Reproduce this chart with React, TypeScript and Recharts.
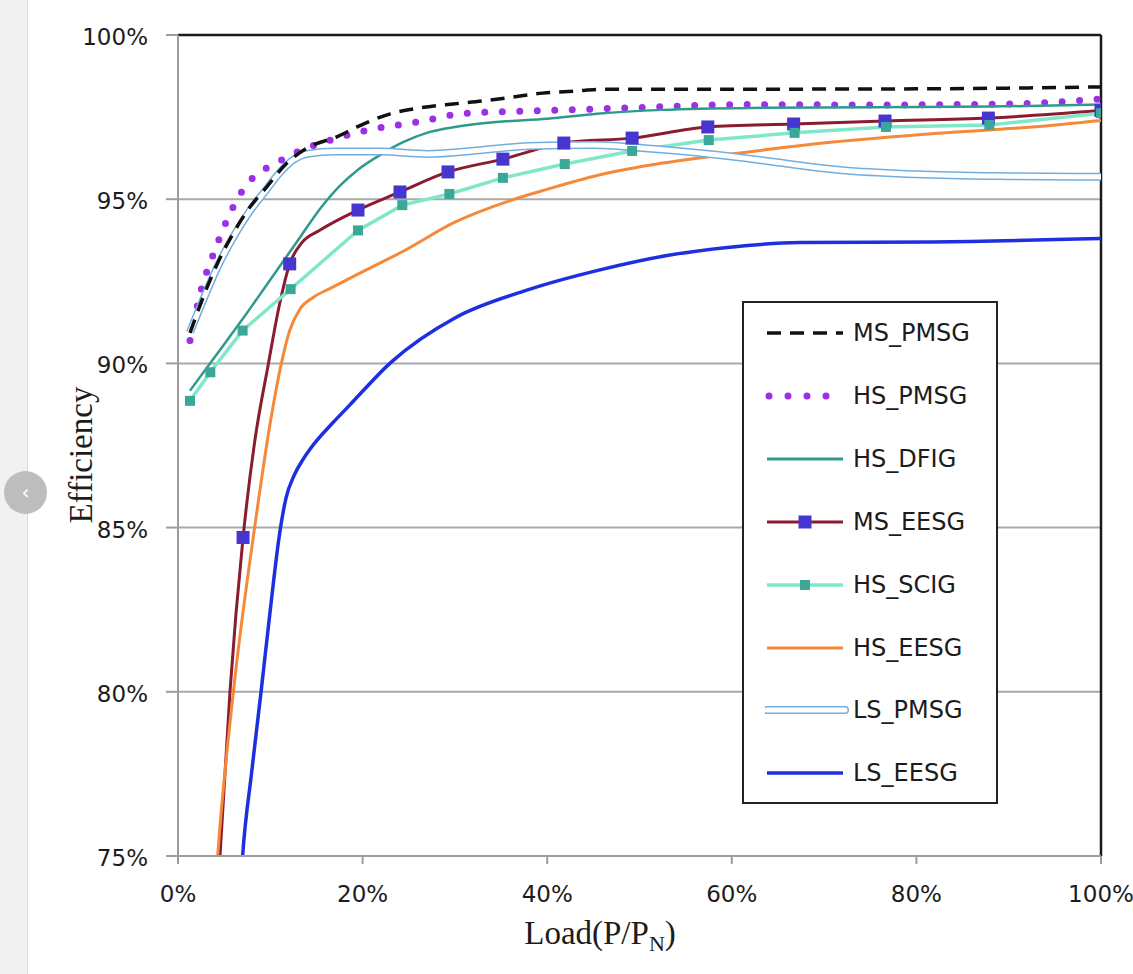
import React from 'react';
import { ComposedChart, Line, XAxis, YAxis, CartesianGrid, Legend, ReferenceLine } from 'recharts';

// Axis ticks (percent)
const LOAD_TICKS = [0, 20, 40, 60, 80, 100];
const EFF_TICKS = [75, 80, 85, 90, 95, 100];

// [load %, efficiency %]
const MS_PMSG: [number, number][] = [
  [1.3, 90.93], [2.9, 92.14], [4.3, 93.06], [6.0, 93.97], [7.8, 94.76], [9.6, 95.37],
  [11.8, 96.1], [14, 96.56], [17.2, 96.9], [19.4, 97.2], [23, 97.6], [26.2, 97.78],
  [29.8, 97.9], [33, 97.99], [36.3, 98.11], [39.5, 98.23], [42.8, 98.29], [46.5, 98.35],
  [60, 98.35], [80, 98.36], [100, 98.42],
];

const HS_PMSG: [number, number][] = [
  [1.3, 90.7], [2.6, 92.33], [3.8, 93.3], [5.2, 94.3], [6.9, 95.22], [8.1, 95.65],
  [9.6, 95.95], [11.4, 96.22], [13, 96.45], [16.5, 96.8], [20.5, 97.1], [25.9, 97.35],
  [31.3, 97.62], [38.9, 97.69], [49, 97.78], [61.2, 97.88], [75, 97.87], [90, 97.9],
  [100, 98.05],
];

const HS_DFIG: [number, number][] = [
  [1.3, 89.17], [4, 90.2], [7, 91.35], [10, 92.55], [13, 93.75], [15.5, 94.75],
  [17.5, 95.4], [19.5, 95.9], [21.9, 96.35], [24.5, 96.75], [27.3, 97.05], [30, 97.2],
  [34.5, 97.35], [40, 97.45], [45.4, 97.6], [52.5, 97.72], [62, 97.78], [75, 97.8],
  [88, 97.82], [100, 97.88],
];

const MS_EESG_CURVE: [number, number][] = [
  [3.5, 69.5], [4.55, 75], [5.63, 80], [7.05, 84.7], [8.3, 87.6], [9.8, 90], [11, 91.8],
  [12.1, 93.03], [13.4, 93.67], [15.4, 94.06], [19.5, 94.67], [24.05, 95.22],
  [29.25, 95.83], [35.2, 96.22], [41.8, 96.71], [49.2, 96.86], [57.4, 97.2],
  [66.7, 97.29], [76.6, 97.38], [87.8, 97.47], [100, 97.7],
];

const MS_EESG_MARKERS: [number, number][] = [
  [7.05, 84.7], [12.1, 93.03], [19.5, 94.67], [24.05, 95.22], [29.25, 95.83],
  [35.2, 96.22], [41.8, 96.71], [49.2, 96.86], [57.4, 97.2], [66.7, 97.29],
  [76.6, 97.38], [87.8, 97.47], [100, 97.7],
];

const HS_SCIG: [number, number][] = [
  [1.3, 88.86], [3.5, 89.73], [7, 91.0], [12.2, 92.26], [19.5, 94.05], [24.3, 94.82],
  [29.4, 95.16], [35.2, 95.65], [41.9, 96.07], [49.2, 96.47], [57.5, 96.8], [66.8, 97.02],
  [76.7, 97.2], [87.9, 97.26], [100, 97.62],
];

const HS_EESG: [number, number][] = [
  [3.5, 71.5], [4.3, 75], [6.0, 80], [8.3, 85], [10, 88.2], [11.2, 90], [12.1, 91.0],
  [13.2, 91.65], [14.6, 92.0], [16.6, 92.3], [20.4, 92.85], [24.3, 93.4], [30, 94.3],
  [35.9, 94.95], [40, 95.3], [45.4, 95.72], [52.5, 96.1], [60, 96.38], [71, 96.74],
  [82, 97.0], [92.6, 97.2], [100, 97.4],
];

const LS_PMSG: [number, number][] = [
  [1.3, 90.95], [2.9, 92.05], [4.3, 92.95], [6, 93.85], [7.8, 94.65], [9.6, 95.3],
  [11, 95.8], [12.5, 96.2], [14, 96.38], [17, 96.45], [22, 96.45], [27, 96.38], [33, 96.5],
  [38, 96.62], [45, 96.65], [52, 96.52], [60, 96.3], [66, 96.08], [72, 95.88],
  [80, 95.76], [90, 95.7], [100, 95.68],
];

const LS_EESG: [number, number][] = [
  [6.2, 71], [7.0, 75], [8.0, 77.6], [9.0, 80], [10.0, 82.5], [11.0, 84.8], [11.7, 85.9],
  [12.6, 86.6], [13.6, 87.1], [14.6, 87.5], [16.8, 88.2], [18.5, 88.7], [23.1, 90.04],
  [30.1, 91.4], [37.8, 92.23], [45.6, 92.84], [53.3, 93.3], [59.8, 93.54], [67.4, 93.68],
  [81.8, 93.7], [100, 93.8],
];

const SERIES_NAMES = ['MS_PMSG', 'HS_PMSG', 'HS_DFIG', 'MS_EESG', 'HS_SCIG', 'HS_EESG', 'LS_PMSG', 'LS_EESG'];

const toData = (pts: [number, number][]) => pts.map(([x, y]) => ({ x, y }));

const square = (size: number, fill: string) => (props: any) => {
  const { cx, cy, index } = props;
  if (cx == null || cy == null) return <g key={`n-${index}`} />;
  return <rect key={`sq-${index}`} x={cx - size / 2} y={cy - size / 2} width={size} height={size} fill={fill} />;
};

const TEXT = '#1c1c1c';

const YTick = (props: any) => {
  const { x, y, payload } = props;
  return (
    <text x={x} y={y} dy={10} textAnchor="end" fontFamily="DejaVu Sans" fontSize={23} fill={TEXT}>
      {payload.value}%
    </text>
  );
};

const XTick = (props: any) => {
  const { x, y, payload } = props;
  return (
    <text x={x} y={y} dy={17} textAnchor="middle" fontFamily="DejaVu Sans" fontSize={23} fill={TEXT}>
      {payload.value}%
    </text>
  );
};

const Sample = ({ name }: { name: string }) => {
  const w = 80;
  const m = 12;
  switch (name) {
    case 'MS_PMSG':
      return <line x1={2} y1={m} x2={78} y2={m} stroke="#111" strokeWidth={3.5} strokeDasharray="14 9" />;
    case 'HS_PMSG':
      return <line x1={4} y1={m} x2={80} y2={m} stroke="#9b30e6" strokeWidth={7} strokeDasharray="0 19" strokeLinecap="round" />;
    case 'HS_DFIG':
      return <line x1={2} y1={m} x2={78} y2={m} stroke="#2e9a8c" strokeWidth={3} />;
    case 'MS_EESG':
      return (
        <g>
          <line x1={2} y1={m} x2={78} y2={m} stroke="#8b1c30" strokeWidth={3} />
          <rect x={w / 2 - 6.5} y={m - 6.5} width={13} height={13} fill="#4636cf" />
        </g>
      );
    case 'HS_SCIG':
      return (
        <g>
          <line x1={2} y1={m} x2={78} y2={m} stroke="#80e8c9" strokeWidth={3.5} />
          <rect x={w / 2 - 5} y={m - 5} width={10} height={10} fill="#3ba796" />
        </g>
      );
    case 'HS_EESG':
      return <line x1={2} y1={m} x2={78} y2={m} stroke="#f5893a" strokeWidth={3} />;
    case 'LS_PMSG':
      return (
        <g>
          <line x1={2} y1={m} x2={80} y2={m} stroke="#72aee0" strokeWidth={8} strokeLinecap="round" />
          <line x1={2} y1={m} x2={80} y2={m} stroke="#fff" strokeWidth={5} strokeLinecap="round" />
        </g>
      );
    default:
      return <line x1={2} y1={m} x2={78} y2={m} stroke="#1d2fe0" strokeWidth={3.5} />;
  }
};

const LegendBox = () => (
  <div
    style={{
      position: 'relative',
      width: 256,
      height: 503,
      boxSizing: 'border-box',
      border: '2px solid #222',
      background: '#fff',
    }}
  >
    {SERIES_NAMES.map((name, i) => (
      <div
        key={name}
        style={{
          position: 'absolute',
          left: 21,
          top: 32 + i * 62.9 - 2 - 14,
          height: 28,
          display: 'flex',
          alignItems: 'center',
        }}
      >
        <svg width={86} height={24} style={{ display: 'block' }}>
          <Sample name={name} />
        </svg>
        <span
          style={{
            marginLeft: 2,
            fontFamily: 'DejaVu Sans',
            fontSize: 24,
            color: TEXT,
            lineHeight: '28px',
            whiteSpace: 'nowrap',
          }}
        >
          {name}
        </span>
      </div>
    ))}
  </div>
);

export default function App() {
  return (
    <div style={{ position: 'absolute', left: 0, top: 0, width: 1133, height: 974, background: '#fff', overflow: 'hidden' }}>
      <div style={{ position: 'absolute', left: 0, top: 0, width: 27, height: 974, background: '#f1f1f1', borderRight: '1px solid #dcdcdc' }} />
      <ComposedChart width={1133} height={974} margin={{ top: 35, right: 32, bottom: 58, left: 100 }}>
        <CartesianGrid horizontal vertical={false} stroke="#a9a9a9" strokeWidth={2} />
        <XAxis
          dataKey="x"
          type="number"
          domain={[0, 100]}
          ticks={LOAD_TICKS}
          allowDataOverflow
          height={60}
          tickSize={8}
          tickMargin={21}
          axisLine={{ stroke: '#9c9c9c', strokeWidth: 2 }}
          tickLine={{ stroke: '#9c9c9c', strokeWidth: 2 }}
          tick={<XTick />}
        />
        <YAxis
          type="number"
          domain={[75, 100]}
          ticks={EFF_TICKS}
          allowDataOverflow
          width={78}
          tickSize={12}
          tickMargin={18}
          axisLine={{ stroke: '#9c9c9c', strokeWidth: 2 }}
          tickLine={{ stroke: '#9c9c9c', strokeWidth: 2 }}
          tick={<YTick />}
        />
        <ReferenceLine y={100} stroke="#1a1a1a" strokeWidth={2.5} ifOverflow="visible" />
        <ReferenceLine x={100} stroke="#1a1a1a" strokeWidth={2.5} ifOverflow="visible" />

        <Line data={toData(HS_PMSG)} dataKey="y" name="HS_PMSG" type="monotone" stroke="#9b30e6" strokeWidth={7} strokeDasharray="0 17.5" strokeLinecap="round" dot={false} activeDot={false} isAnimationActive={false} />
        <Line data={toData(HS_DFIG)} dataKey="y" name="HS_DFIG" type="monotone" stroke="#2e9a8c" strokeWidth={2.5} dot={false} activeDot={false} isAnimationActive={false} />
        <Line data={toData(MS_EESG_CURVE)} dataKey="y" name="MS_EESG" type="monotone" stroke="#8b1c30" strokeWidth={3} dot={false} activeDot={false} isAnimationActive={false} />
        <Line data={toData(MS_EESG_MARKERS)} dataKey="y" name="MS_EESG markers" type="linear" stroke="none" dot={square(13, '#4636cf')} activeDot={false} legendType="none" isAnimationActive={false} />
        <Line data={toData(HS_SCIG)} dataKey="y" name="HS_SCIG" type="linear" stroke="#80e8c9" strokeWidth={3.5} dot={square(10, '#3ba796')} activeDot={false} isAnimationActive={false} />
        <Line data={toData(HS_EESG)} dataKey="y" name="HS_EESG" type="monotone" stroke="#f5893a" strokeWidth={3} dot={false} activeDot={false} isAnimationActive={false} />
        <Line data={toData(LS_PMSG)} dataKey="y" name="LS_PMSG" type="monotone" stroke="#72aee0" strokeWidth={8} dot={false} activeDot={false} isAnimationActive={false} />
        <Line data={toData(LS_PMSG)} dataKey="y" name="LS_PMSG inner" type="monotone" stroke="#ffffff" strokeWidth={5} dot={false} activeDot={false} legendType="none" isAnimationActive={false} />
        <Line data={toData(MS_PMSG)} dataKey="y" name="MS_PMSG" type="monotone" stroke="#111" strokeWidth={3.5} strokeDasharray="14 9" dot={false} activeDot={false} isAnimationActive={false} />
        <Line data={toData(LS_EESG)} dataKey="y" name="LS_EESG" type="monotone" stroke="#1d2fe0" strokeWidth={3.5} dot={false} activeDot={false} isAnimationActive={false} />

        <Legend
          layout="vertical"
          align="center"
          verticalAlign="middle"
          wrapperStyle={{ left: 742, top: 301, width: 256, height: 503 }}
          content={() => <LegendBox />}
        />
      </ComposedChart>
      <div
        style={{
          position: 'absolute',
          left: 81,
          top: 455,
          transform: 'translate(-50%, -50%) rotate(-90deg)',
          fontFamily: 'Liberation Serif',
          fontSize: 33,
          color: TEXT,
          whiteSpace: 'nowrap',
        }}
      >
        Efficiency
      </div>
      <div
        style={{
          position: 'absolute',
          left: 600,
          top: 936,
          transform: 'translate(-50%, -50%)',
          fontFamily: 'Liberation Serif',
          fontSize: 33,
          color: TEXT,
          whiteSpace: 'nowrap',
        }}
      >
        Load(P/P<sub style={{ fontSize: 22 }}>N</sub>)
      </div>
      <div
        style={{
          position: 'absolute',
          left: 4,
          top: 471,
          width: 43,
          height: 43,
          borderRadius: '50%',
          background: '#bdbdbd',
          color: '#fff',
          fontFamily: 'DejaVu Sans',
          fontSize: 20,
          lineHeight: '43px',
          textAlign: 'center',
        }}
      >
        ‹
      </div>
    </div>
  );
}
